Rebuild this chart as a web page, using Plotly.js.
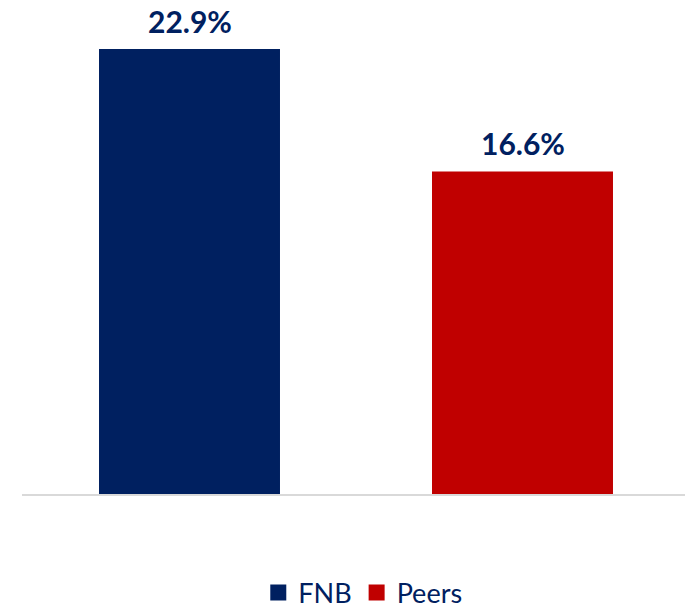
<!DOCTYPE html>
<html><head><meta charset="utf-8">
<script src="https://cdn.plot.ly/plotly-3.0.1.min.js"></script>
<style>html,body{margin:0;padding:0;background:#fff}</style>
</head><body>
<div id="chart" style="width:685px;height:609px"></div>
<script>
const categories = ["FNB", "Peers"];
const values = [22.9, 16.6];
const colors = ["#002060", "#C00000"];
const textColor = "#002060";
const fontFam = "Lato, 'Open Sans', sans-serif";

const barTraces = categories.map((c, i) => ({
  type: "bar",
  name: c,
  x: [c],
  y: [values[i]],
  marker: {color: colors[i]},
  showlegend: false,
  hoverinfo: "skip"
}));

const legendTraces = categories.map((c, i) => ({
  type: "scatter",
  mode: "markers",
  name: c,
  x: [null],
  y: [null],
  marker: {symbol: "square", size: 16, color: colors[i]},
  showlegend: true,
  hoverinfo: "skip"
}));

const annotations = categories.map((c, i) => ({
  x: c, y: values[i], xref: "x", yref: "y",
  text: "<b>" + values[i].toFixed(1) + "%</b>",
  showarrow: false, yanchor: "bottom", yshift: 8,
  font: {family: fontFam, size: 30, color: textColor}
}));

const layout = {
  width: 685, height: 609,
  margin: {l: 22, r: 0, t: 20, b: 115, autoexpand: false},
  paper_bgcolor: "#fff", plot_bgcolor: "#fff",
  barmode: "overlay",
  bargap: 0.4565,
  showlegend: true,
  legend: {
    orientation: "h", x: 0.514, xanchor: "center", y: -0.209, yanchor: "middle",
    font: {family: fontFam, size: 27, color: textColor},
    itemwidth: 30, traceorder: "normal"
  },
  annotations: annotations,
  xaxis: {
    type: "category", categoryorder: "array", categoryarray: categories,
    range: [-0.503, 1.488],
    showticklabels: false, ticks: "", showgrid: false, zeroline: false,
    showline: true, linecolor: "#d9d9d9", linewidth: 2
  },
  yaxis: {range: [0, 24.39], visible: false, showgrid: false, zeroline: false},
  font: {family: fontFam}
};

Plotly.newPlot("chart", barTraces.concat(legendTraces), layout, {displayModeBar: false, staticPlot: true});
</script>
</body></html>
